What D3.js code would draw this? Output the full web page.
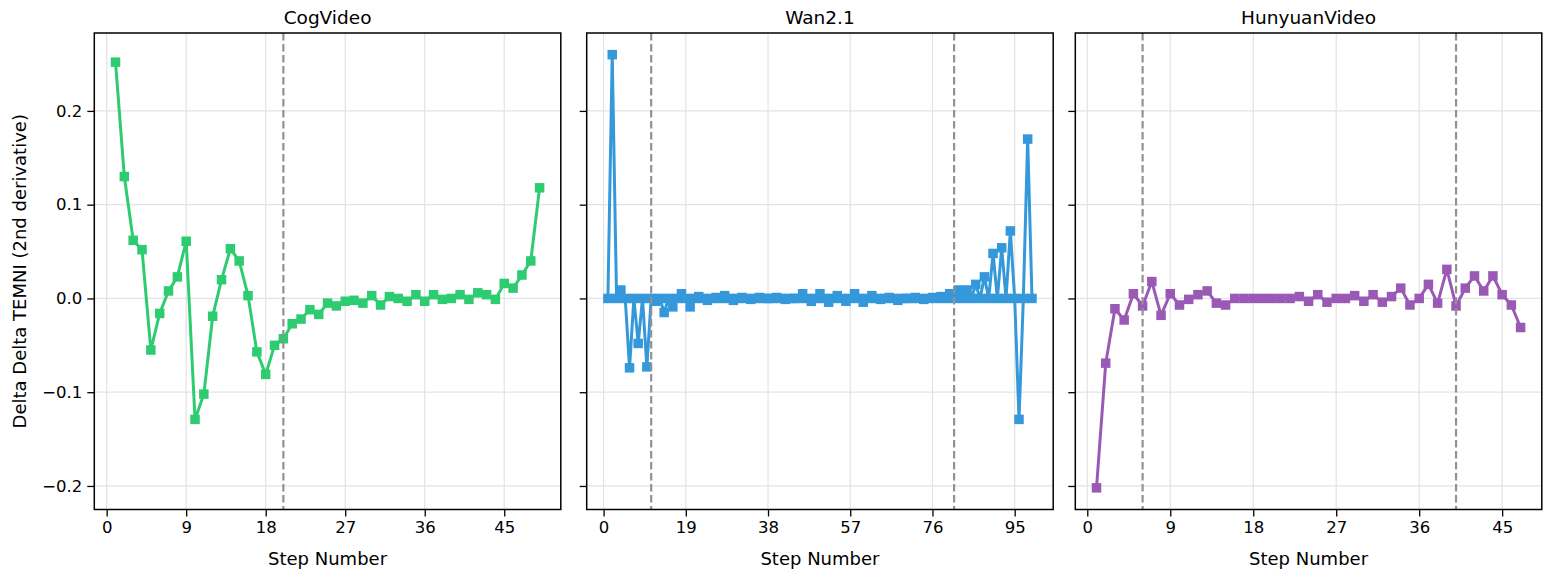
<!DOCTYPE html>
<html>
<head>
<meta charset="utf-8">
<script src="https://cdn.jsdelivr.net/npm/d3@7"></script>
<style>
    body { margin: 0; background: #fff; }
    svg { display: block; font-family: "DejaVu Sans", sans-serif; }
</style>
</head>
<body>
<div id="chart"></div>
<script>

// Data, one value per step (steps start at 1)
var modelNames = ["CogVideo", "Wan2.1", "HunyuanVideo"];
var modelColors = ["#2ecc71", "#3498db", "#9b59b6"];

var cogValues = [
    0.252, 0.130, 0.062, 0.052, -0.055, -0.016, 0.008, 0.023, 0.061, -0.129,
    -0.102, -0.019, 0.020, 0.053, 0.040, 0.003, -0.057, -0.081, -0.050, -0.043,
    -0.027, -0.022, -0.012, -0.017, -0.005, -0.008, -0.003, -0.002, -0.005, 0.003,
    -0.007, 0.002, 0.000, -0.003, 0.004, -0.003, 0.004, -0.001, 0.000, 0.004,
    -0.001, 0.006, 0.004, -0.001, 0.016, 0.011, 0.025, 0.040, 0.118
];

var wanValues = [
    0, 0.260, 0, 0.009, 0, -0.074, 0, -0.048, 0, -0.073,
    0, -0.003, 0, -0.015, 0, -0.009, 0, 0.005, 0, -0.009,
    0, 0.002, 0, -0.002, 0, 0.001, 0, 0.003, 0, -0.002,
    0, 0.001, 0, -0.001, 0, 0.001, 0, 0.000, 0, 0.001,
    0, -0.001, 0, 0.000, 0, 0.005, 0, -0.003, 0, 0.005,
    0, -0.004, 0, 0.003, 0, -0.003, 0, 0.005, 0, -0.004,
    0, 0.003, 0, -0.001, 0, 0.001, 0, -0.002, 0, 0.000,
    0, 0.001, 0, -0.001, 0, 0.001, 0, 0.002, 0, 0.005,
    0, 0.009, 0, 0.009, 0, 0.015, 0, 0.023, 0, 0.048,
    0, 0.054, 0, 0.072, 0, -0.129, 0, 0.170, 0
];

var hunyuanValues = [
    -0.202, -0.069, -0.011, -0.023, 0.005, -0.008, 0.018, -0.018, 0.005, -0.007,
    -0.001, 0.004, 0.008, -0.005, -0.007, 0, 0, 0, 0, 0,
    0, 0, 0.002, -0.003, 0.004, -0.004, 0, 0, 0.003, -0.003,
    0.004, -0.004, 0.002, 0.011, -0.007, 0, 0.015, -0.005, 0.031, -0.008,
    0.011, 0.024, 0.008, 0.024, 0.004, -0.007, -0.031
];

// Dashed marker lines (step numbers) per model
var cogMarks = [20];
var wanMarks = [11, 81];
var hunyuanMarks = [6, 40];

// Tick labels
var cogTicks = [0, 9, 18, 27, 36, 45];
var wanTicks = [0, 19, 38, 57, 76, 95];
var hunyuanTicks = [0, 9, 18, 27, 36, 45];
var yTicks = [-0.2, -0.1, 0.0, 0.1, 0.2];

var panels = [
    {name: modelNames[0], color: modelColors[0], values: cogValues, marks: cogMarks, ticks: cogTicks},
    {name: modelNames[1], color: modelColors[1], values: wanValues, marks: wanMarks, ticks: wanTicks},
    {name: modelNames[2], color: modelColors[2], values: hunyuanValues, marks: hunyuanMarks, ticks: hunyuanTicks}
];

var chartW = 1554, chartH = 578;
var panelLeft = [94.3, 586.7, 1075.3];
var panelWidth = 466.5;
var plotTop = 33, plotBottom = 509.5;

var svg = d3.select("#chart")
    .append("svg")
    .attr("width", chartW)
    .attr("height", chartH);

svg.append("rect").attr("width", chartW).attr("height", chartH).attr("fill", "#fff");

// Shared y scale, with matplotlib-like 5% padding
var allValues = cogValues.concat(wanValues, hunyuanValues);
var yMin = d3.min(allValues), yMax = d3.max(allValues);
var yPad = (yMax - yMin) * 0.05;
var y = d3.scaleLinear()
    .domain([yMin - yPad, yMax + yPad])
    .range([plotBottom, plotTop]);

var minus = function (v) {
    return d3.format(".1f")(v).replace("-", "\u2212");
};

panels.forEach(function (p, i) {
    var n = p.values.length;
    var xPad = (n - 1) * 0.05;
    var x = d3.scaleLinear()
        .domain([1 - xPad, n + xPad])
        .range([panelLeft[i], panelLeft[i] + panelWidth]);

    var g = svg.append("g");

    //Grid lines
    g.selectAll(".xgrid").data(p.ticks).enter().append("line")
        .attr("x1", function (d) { return x(d); })
        .attr("x2", function (d) { return x(d); })
        .attr("y1", plotTop).attr("y2", plotBottom)
        .attr("stroke", "#e3e3e3").attr("stroke-width", 1.2);
    g.selectAll(".ygrid").data(yTicks).enter().append("line")
        .attr("x1", panelLeft[i]).attr("x2", panelLeft[i] + panelWidth)
        .attr("y1", function (d) { return y(d); })
        .attr("y2", function (d) { return y(d); })
        .attr("stroke", "#e3e3e3").attr("stroke-width", 1.2);

    //Data line and square markers
    var pts = p.values.map(function (v, j) { return [j + 1, v]; });
    var line = d3.line()
        .x(function (d) { return x(d[0]); })
        .y(function (d) { return y(d[1]); });

    g.append("path")
        .datum(pts)
        .attr("d", line)
        .attr("fill", "none")
        .attr("stroke", p.color)
        .attr("stroke-width", 3)
        .attr("stroke-linejoin", "round");

    var sq = 9.5;
    g.selectAll(".pt").data(pts).enter().append("rect")
        .attr("x", function (d) { return x(d[0]) - sq / 2; })
        .attr("y", function (d) { return y(d[1]) - sq / 2; })
        .attr("width", sq).attr("height", sq)
        .attr("fill", p.color);

    //Dashed vertical markers
    g.selectAll(".mark").data(p.marks).enter().append("line")
        .attr("x1", function (d) { return x(d); })
        .attr("x2", function (d) { return x(d); })
        .attr("y1", plotTop).attr("y2", plotBottom)
        .attr("stroke", "#929292").attr("stroke-width", 2.2)
        .attr("stroke-dasharray", "7.5,3.5");

    //Axes
    var xAxis = d3.axisBottom(x).tickValues(p.ticks).tickSize(7).tickPadding(5)
        .tickFormat(d3.format("d"));
    var gx = g.append("g")
        .attr("transform", "translate(0," + plotBottom + ")")
        .call(xAxis);
    gx.select(".domain").remove();
    gx.selectAll("line").attr("stroke", "#000").attr("stroke-width", 1.3);
    gx.selectAll("text").attr("font-size", 16.5).attr("fill", "#000")
        .attr("font-family", "DejaVu Sans");

    var yAxis = d3.axisLeft(y).tickValues(yTicks).tickSize(7).tickPadding(5)
        .tickFormat(i === 0 ? minus : "");
    var gy = g.append("g")
        .attr("transform", "translate(" + panelLeft[i] + ",0)")
        .call(yAxis);
    gy.select(".domain").remove();
    gy.selectAll("line").attr("stroke", "#000").attr("stroke-width", 1.3);
    gy.selectAll("text").attr("font-size", 16.5).attr("fill", "#000")
        .attr("font-family", "DejaVu Sans");

    //Frame
    g.append("rect")
        .attr("x", panelLeft[i]).attr("y", plotTop)
        .attr("width", panelWidth).attr("height", plotBottom - plotTop)
        .attr("fill", "none").attr("stroke", "#000").attr("stroke-width", 1.5);

    //Title and x label
    g.append("text")
        .attr("x", panelLeft[i] + panelWidth / 2).attr("y", 24)
        .attr("text-anchor", "middle").attr("font-size", 18.5)
        .text(p.name);
    g.append("text")
        .attr("x", panelLeft[i] + panelWidth / 2).attr("y", 565)
        .attr("text-anchor", "middle").attr("font-size", 18)
        .text("Step Number");
});

svg.append("text")
    .attr("transform", "translate(26," + ((plotTop + plotBottom) / 2) + ") rotate(-90)")
    .attr("text-anchor", "middle").attr("font-size", 18)
    .text("Delta Delta TEMNI (2nd derivative)");

</script>
</body>
</html>
